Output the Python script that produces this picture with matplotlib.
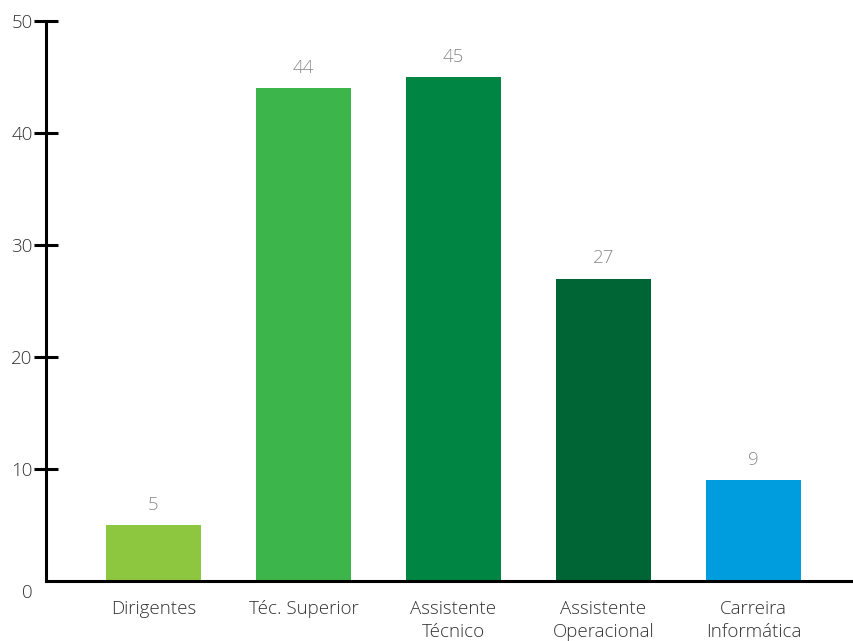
import matplotlib.pyplot as plt
import matplotlib.transforms as mtransforms

plt.rcParams['font.family'] = ['Open Sans', 'DejaVu Sans']

categorias = ["Dirigentes", "Téc. Superior", "Assistente\nTécnico",
              "Assistente\nOperacional", "Carreira\nInformática"]
valores = [5, 44, 45, 27, 9]
cores = ["#8DC63F", "#3CB54A", "#008542", "#006535", "#009DDE"]
yticks = [0, 10, 20, 30, 40, 50]

fig = plt.figure(figsize=(8.54, 6.41), dpi=100)
ax = fig.add_axes([46/854, 60/641, 808/854, 560/641])

x = list(range(len(categorias)))
ax.bar(x, valores, width=0.633, color=cores)
for xi, v in zip(x, valores):
    ax.annotate(str(v), (xi, v), xytext=(0, 8), textcoords="offset points",
                ha="center", va="bottom", fontsize=13.5, color="#8c8c8c",
                fontweight="light")

ax.set_xlim(-0.717, 4.67)
ax.set_ylim(0, 50)
ax.set_yticks(yticks)
ax.set_xticks(x)
ax.set_xticklabels(categorias, fontsize=13.5, color="#333333",
                   fontweight="light", linespacing=1.3)
for lab in ax.get_yticklabels():
    lab.set_fontsize(13.5)
    lab.set_color("#333333")
    lab.set_fontweight("light")

for s in ["top", "right"]:
    ax.spines[s].set_visible(False)
for s in ["left", "bottom"]:
    ax.spines[s].set_linewidth(2.2)
ax.tick_params(axis="y", direction="inout", length=17, width=2.2, pad=1)
ax.tick_params(axis="x", length=0, pad=14)

# zero label sits a bit below the axis line, with no tick mark
t0 = ax.yaxis.get_major_ticks()[0]
t0.tick1line.set_visible(False)
t0.label1.set_transform(t0.label1.get_transform() +
                        mtransforms.ScaledTranslation(0, -10/100, fig.dpi_scale_trans))

fig.savefig("out.png", dpi=100)
